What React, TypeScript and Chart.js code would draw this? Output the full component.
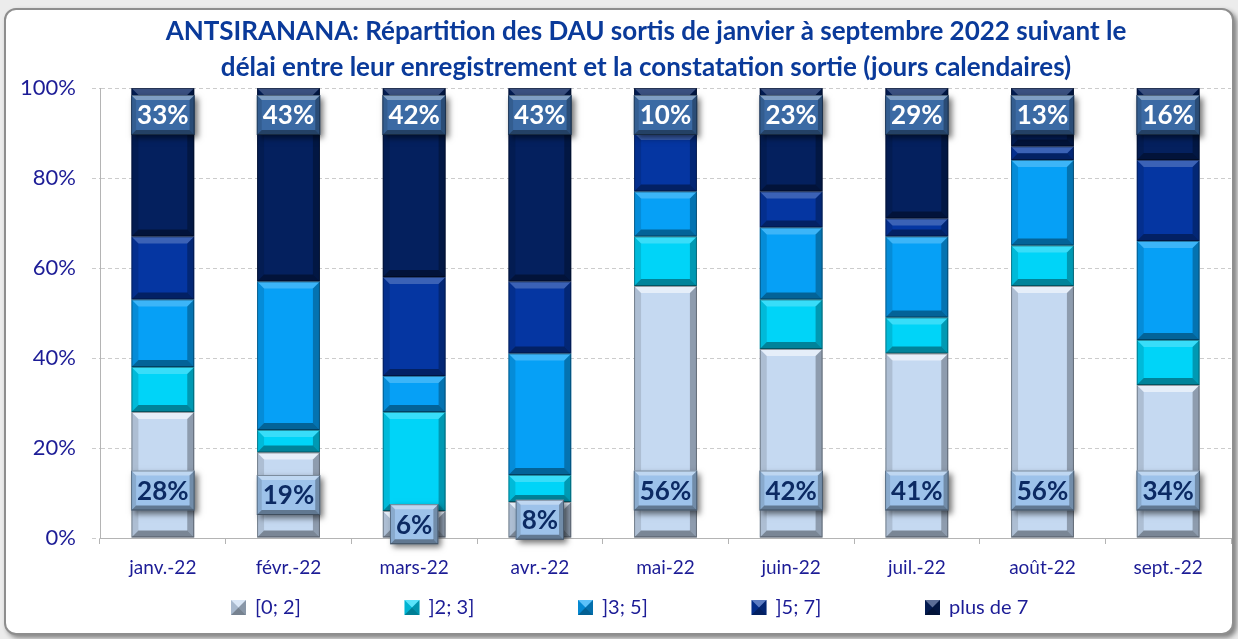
import React, { useEffect, useRef } from 'react';
import { Chart, registerables } from 'chart.js';

Chart.register(...registerables);

const categories = ['janv.-22', 'févr.-22', 'mars-22', 'avr.-22', 'mai-22', 'juin-22', 'juil.-22', 'août-22', 'sept.-22'];
const seriesNames = ['[0; 2]', ']2; 3]', ']3; 5]', ']5; 7]', 'plus de 7'];
const days0to2 = [28, 19, 6, 8, 56, 42, 41, 56, 34];
const days2to3 = [10, 5, 22, 6, 11, 11, 8, 9, 10];
const days3to5 = [15, 33, 8, 27, 10, 16, 18, 19, 22];
const days5to7 = [14, 0, 22, 16, 13, 8, 4, 3, 18];
const daysOver7 = [33, 43, 42, 43, 10, 23, 29, 13, 16];
const titleLines = [
  'ANTSIRANANA: Répartition des DAU sortis de janvier à septembre 2022 suivant le',
  'délai entre leur enregistrement et la constatation sortie (jours calendaires)',
];
const seriesColors = ['#c5d9f1', '#00d4f8', '#06a0f6', '#0536a2', '#04205e'];

const FONT = 'Lato, "Open Sans", sans-serif';
const AXIS_TEXT = '#1c1c96';

function poly(ctx: CanvasRenderingContext2D, pts: number[][], fill: string) {
  ctx.beginPath();
  ctx.moveTo(pts[0][0], pts[0][1]);
  for (let i = 1; i < pts.length; i++) ctx.lineTo(pts[i][0], pts[i][1]);
  ctx.closePath();
  ctx.fillStyle = fill;
  ctx.fill();
}

function bevel(ctx: CanvasRenderingContext2D, l: number, t: number, r: number, b: number, size: number, light = 0.3) {
  const s = Math.max(0, Math.min(size, (b - t) / 2, (r - l) / 2));
  poly(ctx, [[l, t], [r, t], [r - s, t + s], [l + s, t + s]], `rgba(255,255,255,${light})`);
  poly(ctx, [[l, b], [r, b], [r - s, b - s], [l + s, b - s]], 'rgba(0,0,0,0.38)');
  poly(ctx, [[l, t], [l + s, t + s], [l + s, b - s], [l, b]], 'rgba(0,0,0,0.12)');
  poly(ctx, [[r, t], [r - s, t + s], [r - s, b - s], [r, b]], 'rgba(0,0,0,0.28)');
  ctx.strokeStyle = 'rgba(0,0,0,0.35)';
  ctx.lineWidth = 1;
  ctx.strokeRect(l + 0.5, t + 0.5, r - l - 1, b - t - 1);
}

const bevelPlugin = {
  id: 'bevelBars',
  afterDatasetsDraw(chart: any) {
    const ctx = chart.ctx as CanvasRenderingContext2D;
    ctx.save();
    chart.data.datasets.forEach((_ds: any, di: number) => {
      const meta = chart.getDatasetMeta(di);
      meta.data.forEach((bar: any) => {
        const { x, y, base, width } = bar.getProps(['x', 'y', 'base', 'width'], true);
        const top = Math.min(y, base);
        const bottom = Math.max(y, base);
        if (bottom - top < 0.5) return;
        bevel(ctx, x - width / 2, top, x + width / 2, bottom, 7, di === 0 ? 0.55 : 0.22);
      });
    });
    ctx.restore();
  },
};

function labelBox(ctx: CanvasRenderingContext2D, cx: number, cy: number, text: string, fill: string, color: string) {
  ctx.font = `bold 26px ${FONT}`;
  const tw = ctx.measureText(text).width;
  const bw = tw + 12;
  const bh = 40;
  const l = cx - bw / 2;
  const t = cy - bh / 2;
  ctx.save();
  ctx.shadowColor = 'rgba(0,0,0,0.55)';
  ctx.shadowBlur = 6;
  ctx.shadowOffsetX = 3;
  ctx.shadowOffsetY = 3;
  ctx.fillStyle = fill;
  ctx.fillRect(l, t, bw, bh);
  ctx.restore();
  bevel(ctx, l, t, l + bw, t + bh, 5, 0.35);
  ctx.fillStyle = color;
  ctx.textAlign = 'center';
  ctx.textBaseline = 'middle';
  ctx.fillText(text, cx, cy + 1);
}

const labelPlugin = {
  id: 'segLabels',
  afterDatasetsDraw(chart: any) {
    const ctx = chart.ctx as CanvasRenderingContext2D;
    ctx.save();
    const first = chart.getDatasetMeta(0);
    first.data.forEach((bar: any, i: number) => {
      const { x, y, base } = bar.getProps(['x', 'y', 'base'], true);
      const cy = Math.max(base - 47, (y + base) / 2);
      labelBox(ctx, x, cy, Math.round(chart.data.datasets[0].data[i]) + '%', '#9dc2ea', '#0c2a63');
    });
    const last = chart.getDatasetMeta(4);
    last.data.forEach((bar: any, i: number) => {
      const { x, y } = bar.getProps(['x', 'y'], true);
      labelBox(ctx, x, y + 27, Math.round(chart.data.datasets[4].data[i]) + '%', '#3b6aa4', '#ffffff');
    });
    ctx.restore();
  },
};

const decorPlugin = {
  id: 'decor',
  afterDraw(chart: any) {
    const ctx = chart.ctx as CanvasRenderingContext2D;
    ctx.save();
    // title
    ctx.font = `bold 26px ${FONT}`;
    ctx.fillStyle = '#0a3a9a';
    ctx.textAlign = 'center';
    ctx.textBaseline = 'middle';
    ctx.fillText(titleLines[0], 646, 32);
    ctx.fillText(titleLines[1], 646, 68);
    // legend
    ctx.font = `20px ${FONT}`;
    ctx.textAlign = 'left';
    seriesNames.forEach((name, i) => {
      const mx = 231 + i * 173.5;
      const my = 600;
      const s = 15;
      ctx.fillStyle = seriesColors[i];
      ctx.fillRect(mx, my, s, s);
      const c = [mx + s / 2, my + s / 2];
      poly(ctx, [[mx, my], [mx + s, my], c], 'rgba(255,255,255,0.35)');
      poly(ctx, [[mx, my + s], [mx + s, my + s], c], 'rgba(0,0,0,0.4)');
      poly(ctx, [[mx, my], [mx, my + s], c], 'rgba(0,0,0,0.15)');
      poly(ctx, [[mx + s, my], [mx + s, my + s], c], 'rgba(0,0,0,0.3)');
      ctx.fillStyle = AXIS_TEXT;
      ctx.textBaseline = 'middle';
      ctx.fillText(name, mx + 24, my + s / 2);
    });
    ctx.restore();
  },
};

export default function App() {
  const ref = useRef<HTMLCanvasElement | null>(null);
  useEffect(() => {
    if (!ref.current) return;
    const seriesData = [days0to2, days2to3, days3to5, days5to7, daysOver7];
    const chart = new Chart(ref.current, {
      type: 'bar',
      data: {
        labels: categories,
        datasets: seriesNames.map((name, i) => ({
          label: name,
          data: seriesData[i],
          backgroundColor: seriesColors[i],
          borderWidth: 0,
          barPercentage: 0.5,
          categoryPercentage: 1,
        })),
      },
      options: {
        responsive: false,
        animation: false,
        devicePixelRatio: 1,
        layout: { padding: { top: 88, left: 10, right: 7, bottom: 51 } },
        plugins: {
          legend: { display: false },
          title: { display: false },
          tooltip: { enabled: false },
        },
        scales: {
          x: {
            stacked: true,
            grid: { display: true, drawOnChartArea: false, drawTicks: true, tickLength: 6, color: '#b4b4b4', offset: true },
            border: { display: true, color: '#b4b4b4' },
            ticks: { color: AXIS_TEXT, font: { family: FONT, size: 19 }, padding: 12 },
            afterFit: (s: any) => { s.height = 50; },
          },
          y: {
            stacked: true,
            min: 0,
            max: 100,
            grid: { color: '#cccccc', tickLength: 8, tickBorderDash: [4, 3] },
            border: { display: true, color: '#b4b4b4', dash: [4, 3] },
            ticks: {
              stepSize: 20,
              color: AXIS_TEXT,
              font: { family: FONT, size: 22 },
              padding: 16,
              callback: (v: any) => v + '%',
            },
            afterFit: (s: any) => { s.width = 90; },
          },
        },
      },
      plugins: [bevelPlugin, labelPlugin, decorPlugin],
    });
    return () => chart.destroy();
  }, []);

  return (
    <div style={{ position: 'absolute', left: 0, top: 0, width: 1238, height: 639, background: '#ececec', overflow: 'hidden' }}>
      <div
        style={{
          position: 'absolute',
          left: 4,
          top: 8,
          width: 1226,
          height: 623,
          background: '#ffffff',
          border: '2px solid #8e8e8e',
          borderRadius: 12,
          boxShadow: '3px 3px 5px rgba(0,0,0,0.45)',
        }}
      />
      <canvas ref={ref} width={1238} height={639} style={{ position: 'absolute', left: 0, top: 0, width: 1238, height: 639 }} />
    </div>
  );
}
